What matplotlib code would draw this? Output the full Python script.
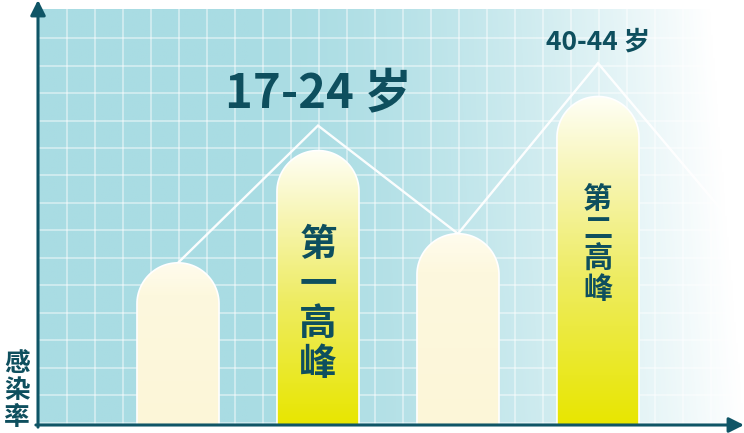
import numpy as np
import matplotlib
matplotlib.use('Agg')
import matplotlib.pyplot as plt
from matplotlib.path import Path
from matplotlib.patches import PathPatch
from matplotlib.colors import LinearSegmentedColormap

plt.rcParams['font.family'] = ['Noto Sans CJK SC', 'DejaVu Sans']

# 数据：四个年龄段柱子 + 折线
bar_x = [0, 1, 2, 3]
bar_h = [39, 66, 46, 79]            # 感染率（相对值）
bar_peak = [False, True, False, True]
line_x = [0, 1, 2, 3, 4]
line_y = [39, 72, 46, 87, 47]
peak_labels = ['17-24 岁', '40-44 岁']
peak_names = ['第一高峰', '第二高峰']
y_label = '感染率'

TEXT = '#0e4f5e'
AXIS = '#0f5566'

W, H = 744, 433
fig = plt.figure(figsize=(W / 100, H / 100), dpi=100)
fig.patch.set_facecolor('white')
ax = fig.add_axes([38 / W, 8 / H, 706 / W, 425 / H])
x0, x1 = -1.0, 4.043
y0, y1 = 0, 102.2
ax.set_xlim(x0, x1)
ax.set_ylim(y0, y1)
ax.axis('off')

# 背景渐变（左蓝右白）
nx, ny = 400, 200
u = np.linspace(0, 1, nx)[None, :]
v = np.linspace(0, 1, ny)[:, None]
w = np.clip((u - 0.3) / 0.7, 0, 1) ** 1.6
w = np.clip(w + 0.12 * w * v, 0, 1)
base = np.array([169, 220, 227]) / 255
img = base[None, None, :] * (1 - w[..., None]) + w[..., None]
ax.imshow(img, extent=(x0, x1, 0, 100), origin='lower', aspect='auto', zorder=0)

# 网格
for gx in np.arange(-0.79, 4.1, 0.2):
    ax.plot([gx, gx], [0, 100], color='white', lw=1.1, alpha=0.55, zorder=1)
for gy in np.arange(93.0, 0, -6.6):
    ax.plot([x0, x1], [gy, gy], color='white', lw=1.1, alpha=0.55, zorder=1)

# 折线
ax.plot(line_x, line_y, color='white', lw=1.7, alpha=0.95, zorder=2,
        solid_joinstyle='miter')

# 圆头柱子
bw = 0.586
px_x = 706 / (x1 - x0)
px_y = 425 / (y1 - y0)
cmap_peak = LinearSegmentedColormap.from_list(
    'peak', [(0, '#e8e600'), (0.45, '#eeec62'), (0.75, '#f7f5b2'), (1, '#fffff6')])
cmap_base = LinearSegmentedColormap.from_list(
    'base', [(0, '#fcf6d8'), (0.8, '#fdf8de'), (1, '#fffcee')])
for x, h, pk in zip(bar_x, bar_h, bar_peak):
    rx = bw / 2
    ry = rx * px_x / px_y
    t = np.linspace(0, np.pi, 60)
    verts = [(x - rx, 0), (x + rx, 0)]
    verts += [(x + rx * np.cos(a), h - ry + ry * np.sin(a)) for a in t]
    verts += [(x - rx, 0)]
    codes = [Path.MOVETO] + [Path.LINETO] * (len(verts) - 2) + [Path.CLOSEPOLY]
    patch = PathPatch(Path(verts, codes), facecolor='none', edgecolor='white',
                      lw=1.2, zorder=4)
    ax.add_patch(patch)
    grad = np.linspace(0, 1, 256)[:, None]
    im = ax.imshow(grad, extent=(x - rx, x + rx, 0, h), origin='lower',
                   aspect='auto', cmap=cmap_peak if pk else cmap_base, zorder=3)
    im.set_clip_path(patch)

# 文字
ax.text(1.0, 79.6, peak_labels[0], ha='center', va='center', fontsize=34,
        fontweight='bold', color=TEXT, zorder=5)
ax.text(3.0, 92.2, peak_labels[1], ha='center', va='center', fontsize=19,
        fontweight='bold', color=TEXT, zorder=5)
ax.text(1.0, 29.2, '\n'.join(peak_names[0]), ha='center', va='center',
        fontsize=27, fontweight='bold', color=TEXT, linespacing=1.02, zorder=5)
ax.text(3.0, 43.5, '\n'.join(peak_names[1]), ha='center', va='center',
        fontsize=21, fontweight='bold', color=TEXT, linespacing=1.0, zorder=5)
ax.text(-1.15, 8.3, '\n'.join(y_label), ha='center', va='center',
        fontsize=18.5, fontweight='bold', color=TEXT, linespacing=0.98,
        zorder=5, clip_on=False)

# 坐标轴箭头
ax.annotate('', xy=(0, 1), xytext=(0, -0.005), xycoords='axes fraction',
            arrowprops=dict(arrowstyle='-|>,head_length=0.9,head_width=0.45',
                            color=AXIS, lw=2.2, shrinkA=0, shrinkB=0),
            annotation_clip=False, zorder=6)
ax.annotate('', xy=(1, 0), xytext=(-0.003, 0), xycoords='axes fraction',
            arrowprops=dict(arrowstyle='-|>,head_length=0.9,head_width=0.45',
                            color=AXIS, lw=2.2, shrinkA=0, shrinkB=0),
            annotation_clip=False, zorder=6)

fig.savefig('out.png', dpi=100)
